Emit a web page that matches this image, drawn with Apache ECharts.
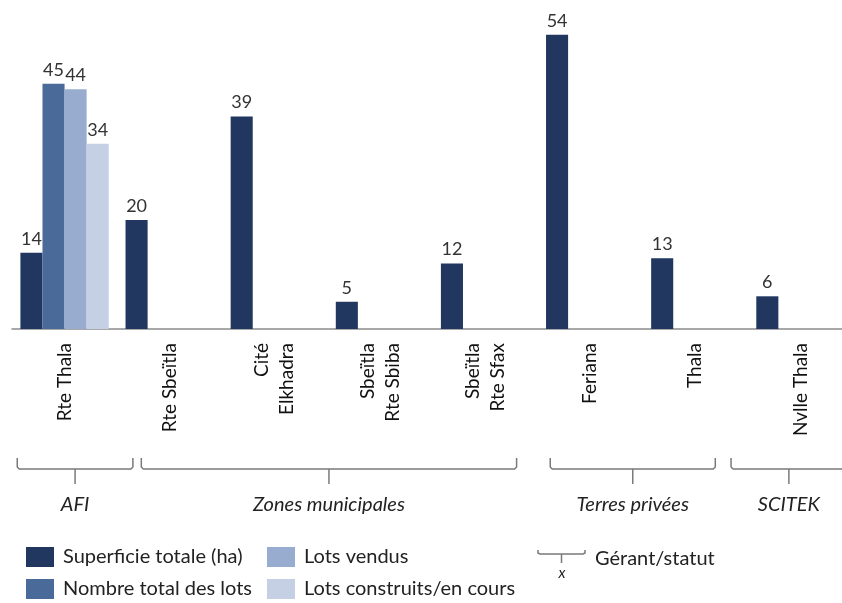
<!DOCTYPE html>
<html>
<head>
<meta charset="utf-8">
<script src="https://cdn.jsdelivr.net/npm/echarts@6/dist/echarts.min.js"></script>
<style>
  html, body { margin: 0; padding: 0; background: #fff; }
  #chart { width: 842px; height: 603px; }
</style>
</head>
<body>
<div id="chart"></div>
<script>
// data
const categories = ["Rte Thala", "Rte Sbeïtla", "Cité\nElkhadra", "Sbeïtla\nRte Sbiba", "Sbeïtla\nRte Sfax", "Feriana", "Thala", "Nvlle Thala"];
const superficie = [14, 20, 39, 5, 12, 54, 13, 6];
const nombreLots = [45, "-", "-", "-", "-", "-", "-", "-"];
const lotsVendus = [44, "-", "-", "-", "-", "-", "-", "-"];
const lotsConstruits = [34, "-", "-", "-", "-", "-", "-", "-"];
const seriesNames = ["Superficie totale (ha)", "Nombre total des lots", "Lots vendus", "Lots construits/en cours"];
const groupNames = ["AFI", "Zones municipales", "Terres privées", "SCITEK"];
const groupCats = [[0, 0], [1, 4], [5, 6], [7, 7]];

const colors = ["#21375f", "#4a6a9a", "#97acce", "#c5d0e4"];
const FONT = "Lato, 'Open Sans', sans-serif";

const chart = echarts.init(document.getElementById("chart"));

const mkSeries = (name, data, color) => ({
  name: name,
  type: "bar",
  data: data,
  barGap: "0%",
  barCategoryGap: "16%",
  itemStyle: { color: color },
  label: {
    show: true,
    position: "top",
    distance: 5,
    color: "#333",
    fontSize: 18,
    fontFamily: FONT,
  },
  animation: false,
});

const legendBase = {
  orient: "vertical",
  top: 547,
  padding: 0,
  icon: "rect",
  itemWidth: 28,
  itemHeight: 20,
  itemGap: 12,
  selectedMode: false,
  textStyle: { color: "#222", fontSize: 20, fontFamily: FONT, padding: [0, 0, 0, 4] },
};

const option = {
  backgroundColor: "#fff",
  grid: { left: 12, width: 841, top: 2, height: 327, outerBoundsMode: "none" },
  legend: [
    Object.assign({}, legendBase, { data: [seriesNames[0], seriesNames[1]], left: 26 }),
    Object.assign({}, legendBase, { data: [seriesNames[2], seriesNames[3]], left: 267 }),
  ],
  xAxis: {
    type: "category",
    data: categories,
    axisLine: { lineStyle: { color: "#8c8c8c", width: 1.5 } },
    axisTick: { show: false },
    axisLabel: {
      interval: 0,
      rotate: 90,
      margin: 14,
      color: "#111",
      fontSize: 19,
      lineHeight: 25,
      fontFamily: FONT,
    },
  },
  yAxis: {
    type: "value",
    min: 0,
    max: 60,
    show: false,
    splitLine: { show: false },
  },
  series: [
    mkSeries(seriesNames[0], superficie, colors[0]),
    mkSeries(seriesNames[1], nombreLots, colors[1]),
    mkSeries(seriesNames[2], lotsVendus, colors[2]),
    mkSeries(seriesNames[3], lotsConstruits, colors[3]),
  ],
};
chart.setOption(option);

// group brackets under the axis labels, placed in category units
const bracketSpan = [[0.05, 1.15], [1.23, 4.8], [5.12, 6.69], [6.84, 7.94]];
const c0 = chart.convertToPixel({ xAxisIndex: 0 }, 0);
const c1 = chart.convertToPixel({ xAxisIndex: 0 }, 1);
const bw = c1 - c0;
const x0 = c0 - bw / 2;
const ux = (u) => x0 + u * bw;

const lineStyle = { stroke: "#7a7a7a", lineWidth: 1.5, fill: null };
const graphics = [];
groupNames.forEach((g, i) => {
  const a = ux(bracketSpan[i][0]);
  const b = ux(bracketSpan[i][1]);
  const m = (a + b) / 2;
  graphics.push({
    type: "polyline",
    shape: { points: [[a, 458], [a, 467], [a + 2, 469], [b - 2, 469], [b, 467], [b, 458]] },
    style: lineStyle,
  });
  graphics.push({
    type: "polyline",
    shape: { points: [[m, 469], [m, 484]] },
    style: lineStyle,
  });
  graphics.push({
    type: "text",
    x: m,
    y: 505,
    style: {
      text: g,
      fill: "#222",
      fontSize: 20,
      fontStyle: "italic",
      fontFamily: FONT,
      align: "center",
      verticalAlign: "middle",
    },
  });
});

// legend entry for the bracket
graphics.push({
  type: "polyline",
  shape: { points: [[538, 550], [538, 553], [540, 554], [583, 554], [585, 553], [585, 550]] },
  style: lineStyle,
});
graphics.push({
  type: "polyline",
  shape: { points: [[561.5, 554], [561.5, 563]] },
  style: lineStyle,
});
graphics.push({
  type: "text",
  x: 562,
  y: 573,
  style: { text: "x", fill: "#222", fontSize: 15, fontStyle: "italic", fontFamily: FONT, align: "center", verticalAlign: "middle" },
});
graphics.push({
  type: "text",
  x: 595,
  y: 559,
  style: { text: "Gérant/statut", fill: "#222", fontSize: 20, fontFamily: FONT, align: "left", verticalAlign: "middle" },
});

chart.setOption({ graphic: graphics });
</script>
</body>
</html>
